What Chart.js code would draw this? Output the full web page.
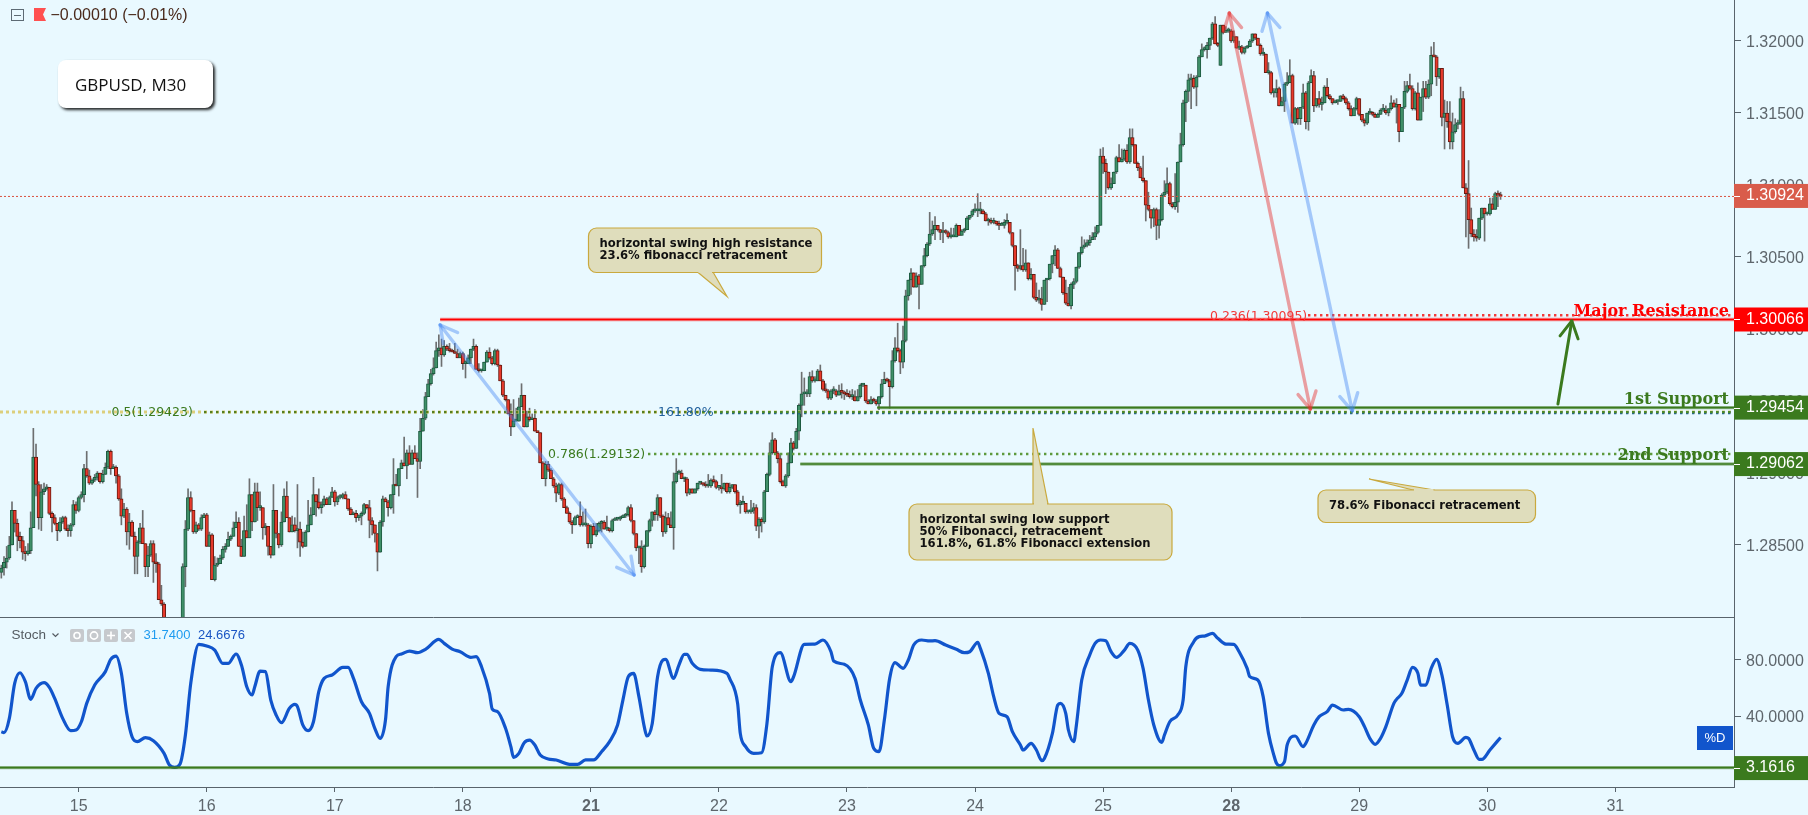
<!DOCTYPE html>
<html><head><meta charset="utf-8"><title>GBPUSD, M30</title>
<style>html,body{margin:0;padding:0;background:#e9f9ff;overflow:hidden;width:1808px;height:815px}
canvas{position:absolute;left:0;display:block}#top{top:0}#bot{top:617px}</style>
<script src="https://cdn.jsdelivr.net/npm/chart.js@4"></script></head><body>
<canvas id="top" width="1808" height="617"></canvas><canvas id="bot" width="1808" height="198"></canvas>
<script>
// candle values are in 1/10000 above basePrice
const basePrice = 1.28;
const closes = [34,38,41,50,74,65,56,53,45,44,
46,62,111,92,69,87,89,90,72,69,
65,60,66,69,61,60,64,78,74,83,
85,103,98,93,95,97,100,94,99,104,
115,103,104,98,82,70,75,59,66,56,
42,52,62,51,35,43,51,38,37,12,
9,-8,-14,-18,-22,-26,-20,-12,35,61,
83,74,59,64,61,69,71,49,57,26,
36,37,41,47,49,54,56,62,66,49,
42,60,55,85,66,87,76,76,62,63,
49,43,74,58,50,66,84,69,59,64,
60,61,52,49,59,64,71,85,80,76,
78,82,78,83,87,80,83,83,85,82,
75,71,72,69,70,72,78,76,67,64,
58,45,66,82,80,76,85,92,91,103,
107,105,114,106,114,110,108,129,138,153,
162,169,173,185,187,182,188,186,185,184,
183,180,183,176,176,180,186,188,172,171,
171,177,184,180,176,185,175,164,154,151,
141,132,136,136,146,154,132,139,137,138,
129,128,107,96,106,102,96,91,86,92,
82,76,72,66,64,69,70,64,64,64,
51,63,57,60,65,66,61,61,60,67,
68,68,69,70,71,76,67,58,48,48,
35,49,60,67,73,71,83,70,59,69,
64,62,94,100,100,96,96,86,89,86,
89,93,93,92,91,91,95,94,90,90,
89,93,87,90,92,87,78,79,79,73,
73,74,76,63,68,66,87,99,114,123,
114,110,94,91,98,107,121,117,129,147,
155,155,155,167,164,164,171,164,158,157,
152,157,157,154,157,156,155,154,153,153,
150,153,161,161,150,148,151,150,148,153,
162,165,164,160,178,187,185,177,192,223,
234,239,229,237,231,244,251,259,266,269,
272,269,267,268,267,264,264,264,272,265,
268,269,277,279,282,282,282,282,280,275,
275,274,275,273,272,272,274,274,267,258,
244,242,244,241,246,235,238,222,220,221,
217,234,235,245,251,255,242,236,225,218,
216,231,233,243,253,257,258,260,262,264,
267,272,320,315,309,298,301,309,319,316,
318,324,316,333,328,315,312,305,303,286,
283,277,283,272,276,293,295,301,287,285,
288,316,328,357,365,373,374,368,375,389,
394,394,397,402,412,398,397,411,406,407,
407,400,403,395,396,392,395,396,400,405,
402,397,391,391,378,378,364,364,367,355,
358,370,371,376,343,353,346,354,364,344,
371,376,355,360,356,357,368,362,360,357,
358,358,362,360,357,353,348,353,360,349,
345,343,350,350,349,347,349,352,352,350,
353,357,354,356,337,354,365,369,367,353,
364,345,361,367,361,370,390,389,375,381,
347,350,344,330,337,342,343,360,298,294,
276,266,264,263,277,284,280,280,287,283,
294,293,292];
const highs = [36,42,49,56,80,74,68,59,56,49,
51,73,131,120,94,92,93,92,90,73,
71,65,69,70,70,64,65,81,80,84,
87,106,115,102,96,99,101,100,102,107,
116,116,106,105,99,89,79,76,72,67,
59,53,65,74,51,49,53,53,44,38,
22,10,-5,-10,-15,-18,-15,-6,37,67,
89,87,74,66,65,71,72,72,59,58,
42,41,43,49,51,59,57,66,73,69,
54,70,78,96,85,93,93,87,76,65,
63,49,92,74,58,73,89,94,69,70,
69,92,66,59,60,81,76,97,85,89,
80,84,83,84,90,88,84,85,86,87,
82,76,73,74,71,73,79,78,81,69,
64,58,67,84,83,81,85,110,99,103,
109,125,116,119,116,119,114,138,144,156,
165,172,180,191,196,193,192,189,190,186,
190,186,184,184,178,182,186,193,189,176,
172,177,185,187,181,186,186,175,165,154,
151,148,151,145,152,162,154,143,145,141,
144,129,128,108,108,108,103,97,93,93,
93,83,77,73,67,70,71,80,73,75,
65,64,65,65,66,67,67,70,62,68,
69,69,70,71,72,77,78,67,58,49,
53,50,60,68,73,74,85,83,71,73,
72,73,100,110,102,102,97,97,89,89,
89,93,94,93,94,99,96,98,95,90,
99,93,93,93,92,92,88,81,84,79,
74,81,79,78,69,69,88,100,121,128,
124,115,113,95,99,114,124,122,131,148,
170,166,158,170,171,167,172,175,165,162,
158,158,160,158,161,162,157,158,157,158,
157,158,162,162,161,151,153,152,151,153,
165,170,166,165,185,194,204,186,202,227,
234,242,239,239,238,244,256,260,281,275,
278,272,269,274,269,268,270,270,273,272,
269,270,278,279,283,287,294,288,283,281,
277,277,277,275,275,274,276,280,274,267,
258,245,269,256,255,246,242,238,232,227,
229,234,235,245,251,258,256,243,236,234,
229,232,235,243,253,264,262,262,265,267,
271,272,325,326,318,309,305,309,320,328,
325,325,328,339,339,328,316,313,320,303,
295,283,284,284,283,294,303,312,302,288,
308,316,336,359,366,377,377,376,376,390,
398,396,399,402,413,417,399,411,411,410,
409,408,407,403,400,397,396,397,401,405,
405,402,398,395,391,385,379,367,373,368,
361,371,378,387,377,354,354,354,370,365,
372,380,379,360,365,361,369,374,363,360,
359,359,362,363,361,358,355,354,361,360,
349,346,350,353,351,350,350,353,356,355,
353,362,359,360,356,354,372,372,377,369,
365,371,361,372,372,373,396,399,390,381,
381,359,358,358,350,346,345,368,365,301,
317,284,269,269,277,284,284,281,291,291,
295,296,295];
const lows = [27,29,34,40,50,59,46,48,40,39,
43,44,62,84,61,60,85,88,71,59,
64,53,59,65,60,56,56,63,72,73,
82,80,97,92,92,94,95,93,93,99,
103,99,103,93,81,64,69,50,47,56,
30,30,51,51,28,28,42,24,31,12,
8,-12,-18,-24,-28,-32,-30,-24,-14,21,
60,73,58,58,60,60,69,49,49,26,
25,35,37,40,45,49,53,56,62,49,
42,42,55,55,60,66,67,74,54,57,
43,41,43,55,48,49,66,69,59,59,
59,48,42,48,49,59,64,71,70,75,
72,77,78,78,83,77,78,82,82,82,
74,71,71,66,67,64,71,75,55,57,
52,32,45,63,80,70,75,72,91,84,
103,105,96,106,106,110,83,103,129,137,
153,161,168,173,181,174,181,185,184,184,
183,180,180,172,166,176,176,185,172,170,
170,171,177,179,175,175,174,164,153,150,
141,126,132,136,136,146,132,132,136,137,
129,128,107,96,91,101,96,90,80,85,
81,76,72,65,58,64,69,63,63,63,
48,48,57,56,59,59,61,60,59,59,
67,67,67,69,69,70,66,57,46,37,
31,34,49,59,63,67,67,69,56,58,
64,62,47,93,99,96,94,84,85,86,
86,88,92,91,90,90,90,93,89,88,
86,88,86,86,89,86,77,72,78,72,
72,72,72,60,55,59,65,87,98,113,
113,107,93,91,90,97,107,116,117,123,
139,147,153,153,163,163,164,164,157,156,
151,151,155,153,154,152,151,153,152,151,
150,150,152,160,149,148,148,149,147,144,
152,162,163,145,159,177,184,169,173,191,
220,224,229,229,214,231,243,250,258,265,
262,268,262,260,266,263,263,264,264,265,
265,267,269,276,278,281,278,280,280,275,
272,273,273,272,269,272,270,273,266,257,
227,240,241,240,240,234,234,221,219,218,
213,217,219,234,239,244,242,236,224,217,
216,214,228,232,242,252,256,257,258,262,
262,266,272,308,294,297,297,301,308,316,
316,317,315,315,327,315,310,305,302,275,
282,270,271,262,263,275,292,294,286,284,
283,281,316,327,344,358,353,367,355,375,
389,393,388,394,401,398,396,383,405,406,
406,399,399,395,394,391,391,395,396,399,
401,397,390,390,378,377,363,361,361,355,
355,351,369,371,343,342,342,342,353,339,
338,371,351,354,354,352,357,361,359,356,
357,356,358,359,356,352,348,352,352,348,
344,341,342,349,348,347,347,349,351,349,
348,352,354,343,330,337,353,364,366,352,
352,345,345,351,360,360,362,389,369,374,
341,325,340,325,325,336,339,342,298,264,
256,264,261,261,262,276,261,279,279,283,
283,285,290];
const firstOpen = 31;
const openGaps = {457: 383};

const slotCount = 650;
const dayTickSlots = [29,77,125,173,221,269,317,365,413,461,509,557,605];
const dayTickNames = ['15','16','17','18','21','22','23','24','25','28','29','30','31'];
const boldDays = ['21','28'];
const priceTicks = [1.32,1.315,1.31,1.305,1.30,1.295,1.29,1.285];
const stochTicks = [40,80];

const stochSlots = [0,1,3,5,7,9,11,13,16,18,20,23,26,28,30,32,35,39,41,43,45,47,49,51,54,57,61,63,65,67,69,71,74,77,80,83,85,88,90,92,94,95,97,99,101,103,105,108,110,111,113,115,117,119,121,124,128,130,132,135,138,140,142,144,145,148,150,153,156,159,164,166,169,172,176,178,180,183,184,186,189,191,192,194,196,198,200,202,205,208,213,216,219,222,225,228,231,233,235,237,239,241,242,244,246,248,249,252,254,256,257,259,262,266,272,273,276,277,279,282,285,287,289,292,296,297,301,305,308,311,312,316,320,322,325,327,329,331,333,335,337,338,340,342,345,348,350,354,358,361,363,366,367,370,372,374,377,379,382,383,386,388,390,391,394,396,397,399,400,402,403,405,408,410,412,414,416,418,421,423,426,428,430,432,435,436,438,441,443,444,447,449,451,454,456,459,462,464,467,468,471,473,475,477,478,479,481,482,485,488,489,492,494,497,499,503,505,509,511,513,515,517,519,522,523,525,527,529,531,532,534,536,538,540,542,544,546,549,550,552,554,555,558,562];
const stochValues = [28.8,28.1,38.3,63.3,70.9,64.5,51.9,59.7,63.8,60.5,52.6,38.3,29.5,30,35.9,49,62.1,71.7,80.5,82.8,70.5,41.9,25.2,21.7,24.5,22.4,13.3,5,3.3,5.7,26.4,63.3,91.2,90,87.1,77.6,77.6,84.3,76.4,60.9,55,60.9,72.1,71.7,51.4,40.7,35.2,45.5,48.3,46.7,33.6,29.5,35.9,57.4,66.9,69.3,74.7,74.7,66.9,50.2,41.9,31.2,24,37.1,60.9,82.4,84.3,86.4,85.2,87.6,94.7,91.9,87.8,85.9,81.9,82.4,75.2,56.2,45,43.1,31.2,18.1,10.5,13.3,20.9,22.8,19.3,12.1,9.3,8.6,5.5,5.5,8.6,8.6,14.5,21.7,33.6,51.4,68.1,70.5,53.8,32.4,25.7,34.7,68.1,80,80.5,66.9,76.4,84,84,77.6,73.3,72.8,70.5,66.9,49,27.6,18.1,13.3,13.8,34.7,75.2,85.2,64.5,68.1,91.2,91.4,94.3,85.9,79.3,76.9,66.9,51.4,33.6,16.9,14.5,37.1,66.9,78.1,75.2,74,80,90.7,94.3,93.6,93.8,90.7,87.6,85.2,85.9,92.6,88.3,70.5,53.8,41.9,39.5,28.8,19.3,15.7,20.5,15.7,8.1,9.7,27.6,47.8,49,41.9,30,21.7,33.6,65.7,83.6,91.9,94.3,93.8,85.9,81.9,87.1,91.9,87.1,74,51.4,33.6,21.2,26.4,35.9,40.7,51.4,75.2,93.1,96.7,97.1,99,95.5,91.4,91.2,85.9,74,68.1,65.7,53.8,27.6,12.1,6.2,4.5,7.4,19.3,25.7,18.1,20.5,33.6,39.5,43.1,47.8,44.3,44.7,39.5,32.4,24,19.7,24,32.4,49,51.9,56.2,65.7,74.7,70.5,62.1,62.1,74,80.5,69.3,47.8,25.2,20.5,24.7,24,15.7,9,9,15.7,24.7];
const stochK = '31.7400', stochD = '24.6676';
const stochLevel = 3.1616;

const lastPrice = 1.30924, majorRes = 1.30066, support1 = 1.29454, support2 = 1.29062;
const fib05 = 1.29423, fib786 = 1.29132, fib236 = 1.30095, ext1618 = 1.29418;
const redLineFrom = 164.5, support1From = 328.3, support2From = 299.5;
const arrowBlue1 = [[164.5,1.30028],[237.2,1.28292]];
const arrowRed = [[460.3,1.32194],[490.7,1.29444]];
const arrowBlue2 = [[474.6,1.32194],[506.4,1.29431]];
const arrowGreen = [[583.5,1.29479],[588.7,1.30056]];

// ---------------- derived series
const px = v => +(basePrice + v/10000).toFixed(5);
const slots = Array.from({length:slotCount},(_,i)=>{const d=dayTickSlots.indexOf(i);return d<0?'':dayTickNames[d];});
const opens = closes.map((c,i)=> i===0 ? firstOpen : (openGaps[i]!==undefined ? openGaps[i] : closes[i-1]));
const bodies = closes.map((c,i)=>[px(opens[i]),px(c)]);
const wicks = closes.map((c,i)=>[px(lows[i]),px(highs[i])]);
const isUp = i => closes[i] >= opens[i];
const stochLine = Array(closes.length).fill(null);
stochSlots.forEach((s,i)=>{stochLine[s]=stochValues[i];});

const AXIS = '#59646c', LABEL = '#5e666c', GREEN = '#3b7a1e', RED = '#ff0000', FONT='"Liberation Sans", Arial, sans-serif', DJ='"DejaVu Sans", Verdana, sans-serif', DJS='"DejaVu Serif", Georgia, serif';
const DOTS = [2.4,3.6];

function fixY(scale){scale.width=74;scale.paddingTop=0;scale.paddingBottom=0;}
function text(c,s,x,y,font,color,align){c.font=font;c.fillStyle=color;c.textAlign=align||'left';c.textBaseline='middle';c.fillText(s,x,y);}
function hline(c,x1,x2,y,color,w,dash){c.save();c.strokeStyle=color;c.lineWidth=w;c.setLineDash(dash||[]);c.beginPath();c.moveTo(x1,y);c.lineTo(x2,y);c.stroke();c.restore();}
function head(c,x,y,ang,len){[-0.5,0.5].forEach(d=>{c.beginPath();c.moveTo(x,y);c.lineTo(x+Math.cos(ang+d)*len,y+Math.sin(ang+d)*len);c.stroke();});}
function arrow(ch,pair,color,both,w){
  const c=ch.ctx,X=ch.scales.x,Y=ch.scales.y;
  const x1=X.getPixelForValue(pair[0][0]),y1=Y.getPixelForValue(pair[0][1]),x2=X.getPixelForValue(pair[1][0]),y2=Y.getPixelForValue(pair[1][1]);
  c.save();c.strokeStyle=color;c.lineWidth=w;c.lineCap='round';
  c.beginPath();c.moveTo(x1,y1);c.lineTo(x2,y2);c.stroke();
  const a=Math.atan2(y1-y2,x1-x2);head(c,x2,y2,a,19);
  if(both)head(c,x1,y1,a+Math.PI,19);
  c.restore();
}
function tag(c,y,bg,s,x,w){c.fillStyle=bg;c.fillRect(x,y-12,w,24);text(c,s,1746,y,'16px '+FONT,'#ffffff');c.fillStyle='#fff';c.fillRect(1734,Math.round(y),6,1);}
function callout(c,x,y,w,h,tail,lines,tx,ty){
  const fill='#dfddbc',line='#c9a93e';
  c.save();c.fillStyle=fill;c.strokeStyle=line;c.lineWidth=1.2;
  c.beginPath();c.moveTo(tail[0][0],tail[0][1]);c.lineTo(tail[1][0],tail[1][1]);c.lineTo(tail[2][0],tail[2][1]);c.closePath();c.fill();c.stroke();
  c.beginPath();c.roundRect(x,y,w,h,8);c.fill();c.stroke();
  c.strokeStyle=fill;c.lineWidth=2;c.beginPath();c.moveTo(tail[0][0]+1,tail[0][1]);c.lineTo(tail[2][0]-1,tail[2][1]);c.stroke();
  lines.forEach((s,i)=>text(c,s,tx,ty+i*12,'bold 11.6px '+DJ,'#111111'));
  c.restore();
}
function nudgeYLabels(ch){
  const s=ch.scales.y;
  if(s._nudged===s._labelItems&&s._labelItems)return;
  const items=s.getLabelItems(ch.chartArea);
  items.forEach(i=>{i.options.translation[1]+=1.5;});
  s._nudged=items;
}

const overlay = {id:'overlay',
 beforeDraw:nudgeYLabels,
 afterDatasetsDraw(ch){
  const c=ch.ctx,X=ch.scales.x,Y=ch.scales.y,R=ch.chartArea.right,L=0;
  const xk=k=>X.getPixelForValue(k),yp=p=>Y.getPixelForValue(p);
  hline(c,L,R,yp(lastPrice)+.5,'#d9503f',1,[2,2]);
  // fib dotted levels
  hline(c,L,R,yp(fib05),'#dccf7c',3,[3,3]);
  hline(c,204,R,yp(fib05),'#567f1e',2.4,DOTS);
  hline(c,720,R,yp(ext1618),'#1f5f9c',3,DOTS);
  hline(c,702,R,yp(fib05),'#4d8a26',2.4,DOTS);
  hline(c,648,R,yp(fib786),'#5d9a3d',2.4,DOTS);
  hline(c,1308,R,yp(fib236),'#f23a3a',2.4,DOTS);
  // horizontal levels
  [[redLineFrom,majorRes,'255,0,0'],[support1From,support1,'59,122,30'],[support2From,support2,'59,122,30']].forEach(l=>{
    hline(c,xk(l[0]),R,yp(l[1]),'rgba('+l[2]+',.45)',3.4);
    hline(c,xk(l[0]),R,yp(l[1]),'rgb('+l[2]+')',1.6);
  });
  // arrows
  arrow(ch,arrowBlue1,'rgba(66,133,244,.42)',true,3.4);
  arrow(ch,arrowRed,'rgba(230,50,50,.46)',true,3.4);
  arrow(ch,arrowBlue2,'rgba(66,133,244,.42)',true,3.4);
  arrow(ch,arrowGreen,GREEN,false,3);
  // fib text
  const ff='12.5px '+DJ;
  text(c,'0.5(1.29423)',111.5,yp(fib05)+1,ff,GREEN);
  text(c,'161.80%',658,yp(ext1618),ff,'#1f5f9c');
  text(c,'0.786(1.29132)',548,yp(fib786)+1,ff,GREEN);
  text(c,'0.236(1.30095)',1210,yp(fib236)+1,ff,'#f23a3a');
  // level names
  const fs='bold 16px '+DJS;
  text(c,'Major Resistance',1729,312,fs,RED,'right');
  text(c,'1st Support',1729,400,fs,GREEN,'right');
  text(c,'2nd Support',1729,456,fs,GREEN,'right');
  // callouts
  callout(c,588.5,228,233,44.5,[[697.5,272],[727,296.5],[713,272]],['horizontal swing high resistance','23.6% fibonacci retracement'],599.5,244);
  callout(c,909,504,263,56,[[1033,504],[1033,428],[1048,504]],['horizontal swing low support','50% Fibonacci, retracement','161.8%, 61.8% Fibonacci extension'],919.5,520);
  callout(c,1318,490,217.5,32.5,[[1413,490],[1369,479],[1434.5,490]],['78.6% Fibonacci retracement'],1329,506);
  // title box
  c.save();c.shadowColor='rgba(0,0,0,.85)';c.shadowBlur=3;c.shadowOffsetX=2;c.shadowOffsetY=2;c.fillStyle='#fff';
  c.beginPath();c.roundRect(58,60,155,48,8);c.fill();c.restore();
  text(c,'GBPUSD, M30',75,86,'17px "Open Sans", sans-serif','#111111');
  // header
  c.strokeStyle='#5d6b74';c.lineWidth=1;c.strokeRect(11.5,9.5,12,11);hline(c,14,21,15.5,'#5d6b74',1);
  c.fillStyle='#ff5050';c.beginPath();c.moveTo(34,8);c.lineTo(46,8);c.lineTo(43,14.5);c.lineTo(46,21);c.lineTo(34,21);c.closePath();c.fill();
  text(c,'−0.00010 (−0.01%)',50.5,16,'16px '+FONT,'#4a2a1c');
 },
 afterDraw(ch){
  const c=ch.ctx,Y=ch.scales.y,yp=p=>Y.getPixelForValue(p);
  tag(c,yp(lastPrice),'#d95c4b',lastPrice.toFixed(5),1734,74);
  tag(c,yp(majorRes),'#ff0000',majorRes.toFixed(5),1734,74);
  tag(c,yp(support1),GREEN,support1.toFixed(5),1734,74);
  tag(c,yp(support2),GREEN,support2.toFixed(5),1734,74);
 }};

new Chart(document.getElementById('top'),{
 type:'bar',
 plugins:[overlay],
 data:{labels:slots,datasets:[
  {label:'wick',data:wicks,backgroundColor:'#6d6f70',borderWidth:0,barThickness:1,grouped:false,order:2},
  {label:'body',data:bodies,grouped:false,order:1,barThickness:3.4,borderWidth:1,minBarLength:2,borderSkipped:false,
   backgroundColor:ctx=>isUp(ctx.dataIndex)?'#3f9068':'#e8392b',
   borderColor:ctx=>isUp(ctx.dataIndex)?'#1d5a40':'#671a10'}
 ]},
 options:{responsive:false,animation:false,devicePixelRatio:1,events:[],
  layout:{padding:0},
  plugins:{legend:{display:false},tooltip:{enabled:false},title:{display:false}},
  scales:{
   x:{display:false,offset:true,grid:{display:false,offset:false}},
   y:{position:'right',min:1.28,max:1.322847,
    afterBuildTicks:s=>{s.ticks=priceTicks.map(v=>({value:v}));},
    afterFit:fixY,
    grid:{drawOnChartArea:false,drawTicks:true,tickLength:7,tickColor:AXIS},
    border:{display:true,color:AXIS,width:1},
    ticks:{padding:5,color:LABEL,font:{family:FONT,size:16},align:'center',crossAlign:'near',callback:v=>v.toFixed(5)}}
  }}
});

const lower = {id:'lower',
 beforeDraw:nudgeYLabels,
 afterDatasetsDraw(ch){
  const c=ch.ctx,Y=ch.scales.y,R=ch.chartArea.right;
  const y=Y.getPixelForValue(stochLevel);
  hline(c,0,R,y,'rgba(59,122,30,.45)',3.4);hline(c,0,R,y,GREEN,1.6);
  hline(c,0,R,.5,AXIS,1);
  const f='13px '+FONT;
  text(c,'Stoch',11.5,18.5,'13.5px '+FONT,'#555c62');
  c.strokeStyle='#555c62';c.lineWidth=1.2;c.beginPath();c.moveTo(52.5,16.5);c.lineTo(55.5,19.5);c.lineTo(58.5,16.5);c.stroke();
  [70,87,104,121].forEach((x,i)=>{
    c.fillStyle='#c6c9cd';c.beginPath();c.roundRect(x,12,14,13,2);c.fill();
    c.strokeStyle='#fff';c.lineWidth=1.6;c.beginPath();
    const mx=x+7,my=18.5;
    if(i<2){c.arc(mx,my,i?3.6:3,0,7);}
    else if(i===2){c.moveTo(mx-4,my);c.lineTo(mx+4,my);c.moveTo(mx,my-4);c.lineTo(mx,my+4);}
    else{c.moveTo(mx-3.5,my-3.5);c.lineTo(mx+3.5,my+3.5);c.moveTo(mx+3.5,my-3.5);c.lineTo(mx-3.5,my+3.5);}
    c.stroke();
  });
  text(c,stochK,143.5,18.5,f,'#1e9bf0');
  text(c,stochD,198,18.5,f,'#1a55c4');
 },
 afterDraw(ch){
  const c=ch.ctx,Y=ch.scales.y;
  const y=Y.getPixelForValue(stochLevel);
  tag(c,y+.5,GREEN,stochLevel.toFixed(4),1734,74);
  c.fillStyle='#1155cc';c.fillRect(1697,109,36,24);
  text(c,'%D',1715,121,'13px '+FONT,'#fff','center');
 }};

new Chart(document.getElementById('bot'),{
 type:'line',
 plugins:[lower],
 data:{labels:slots,datasets:[{label:'%D',data:stochLine,spanGaps:true,borderColor:'#1155cc',borderWidth:3.2,pointRadius:0,cubicInterpolationMode:'monotone',fill:false,borderJoinStyle:'round'}]},
 options:{responsive:false,animation:false,devicePixelRatio:1,events:[],
  layout:{padding:0},
  plugins:{legend:{display:false},tooltip:{enabled:false},title:{display:false}},
  scales:{
   x:{offset:true,
    afterFit:s=>{s.height=28;s.paddingLeft=0;s.paddingRight=0;},
    grid:{drawOnChartArea:false,drawTicks:true,offset:false,tickLength:5,tickColor:ctx=>(ctx.tick&&ctx.tick.label)?AXIS:'rgba(0,0,0,0)'},
    border:{display:true,color:AXIS,width:1},
    ticks:{autoSkip:false,maxRotation:0,minRotation:0,padding:5,color:LABEL,
      font:ctx=>({family:FONT,size:16,weight:(ctx.tick&&boldDays.includes(ctx.tick.label))?'bold':'normal'})}},
   y:{position:'right',min:-10.71,max:110.71,
    afterBuildTicks:s=>{s.ticks=stochTicks.map(v=>({value:v}));},
    afterFit:fixY,
    grid:{drawOnChartArea:false,drawTicks:true,tickLength:7,tickColor:AXIS},
    border:{display:true,color:AXIS,width:1},
    ticks:{padding:5,color:LABEL,font:{family:FONT,size:16},callback:v=>v.toFixed(4)}}
  }}
});
</script></body></html>
